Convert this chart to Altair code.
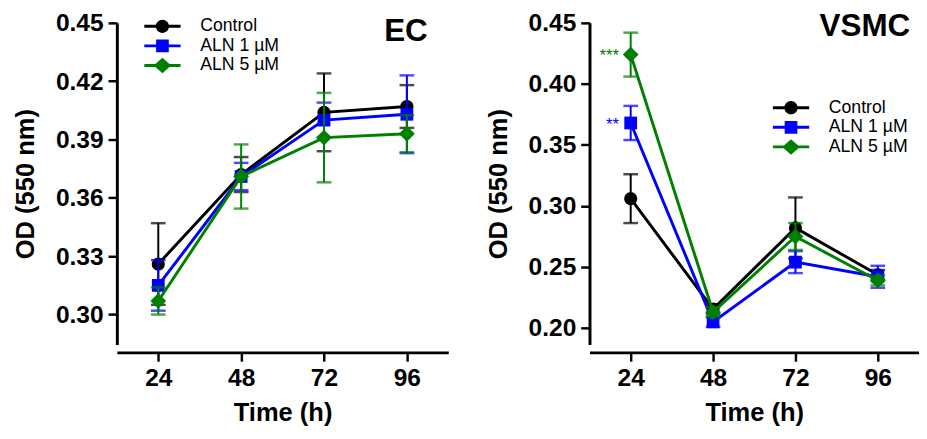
import altair as alt
import pandas as pd

# ---------------- data ----------------
times = [24, 48, 72, 96]
series = ["Control", "ALN 1 µM", "ALN 5 µM"]

ec_control = [0.326, 0.372, 0.404, 0.407]
ec_control_err = [0.021, 0.009, 0.020, 0.011]
ec_aln1 = [0.315, 0.371, 0.400, 0.403]
ec_aln1_err = [0.013, 0.007, 0.009, 0.020]
ec_aln5 = [0.307, 0.371, 0.391, 0.393]
ec_aln5_err = [0.007, 0.0165, 0.023, 0.0095]

vsmc_control = [0.306, 0.2155, 0.282, 0.2436]
vsmc_control_err = [0.020, 0.004, 0.025, 0.004]
vsmc_aln1 = [0.368, 0.205, 0.254, 0.242]
vsmc_aln1_err = [0.014, 0.004, 0.009, 0.009]
vsmc_aln5 = [0.424, 0.213, 0.275, 0.239]
vsmc_aln5_err = [0.018, 0.004, 0.011, 0.004]
vsmc_stars_24h = ["", "**", "***"]

ec_yticks = [0.30, 0.33, 0.36, 0.39, 0.42, 0.45]
vsmc_yticks = [0.20, 0.25, 0.30, 0.35, 0.40, 0.45]
xticks = [24, 48, 72, 96]

# ---------------- style ----------------
FONT = "Liberation Sans"
colors = ["#000000", "#0000FF", "#008000"]
shapes = ["circle", "square", "diamond"]
sizes = [180, 169, 260]
legend_paths = [
    "M-2,-0.16H-0.6V0.16H-2Z M0.6,-0.16H2V0.16H0.6Z M0,-0.73A0.73,0.73 0 1,1 0,0.73A0.73,0.73 0 1,1 0,-0.73Z",
    "M-2,-0.16H2V0.16H-2Z M-0.7,-0.7H0.7V0.7H-0.7Z",
    "M-2,-0.16H2V0.16H-2Z M0,-0.86L0.97,0L0,0.86L-0.97,0Z",
]


def build_df(vals, errs, stars=None):
    rows = []
    for i, s in enumerate(series):
        for j, t in enumerate(times):
            rows.append({
                "series": s, "time": t, "od": vals[i][j], "err": errs[i][j],
                "star": (stars[i] if (stars is not None and t == 24) else ""),
            })
    return pd.DataFrame(rows)


def panel(df, name, ydomain, yticks, width, lx, ly, title_dx, title_offset):
    base = alt.Chart(df).transform_calculate(
        lo="datum.od - datum.err", hi="datum.od + datum.err"
    )
    x = alt.X(
        "time:Q",
        scale=alt.Scale(domain=[12, 108], nice=False, zero=False),
        axis=alt.Axis(values=xticks, title="Time (h)", offset=8, labelPadding=5,
                      titlePadding=10, format="d"),
    )
    y_axis = alt.Axis(values=yticks, format=".2f", title="OD (550 nm)",
                      labelPadding=5, titlePadding=17)
    yscale = alt.Scale(domain=ydomain, nice=False, zero=False)

    layers = []
    for i, s in enumerate(series):
        sub = base.transform_filter(alt.datum.series == s)
        c = colors[i]
        layers.append(sub.mark_rule(color=c, strokeWidth=2).encode(
            x=x, y=alt.Y("lo:Q", scale=yscale, axis=y_axis), y2="hi:Q"))
        layers.append(sub.mark_tick(color=c, orient="horizontal", size=15, thickness=2.5).encode(
            x=x, y=alt.Y("hi:Q", scale=yscale, axis=y_axis)))
        layers.append(sub.mark_tick(color=c, orient="horizontal", size=15, thickness=2.5).encode(
            x=x, y=alt.Y("lo:Q", scale=yscale, axis=y_axis)))
        layers.append(sub.mark_line(color=c, strokeWidth=3).encode(
            x=x, y=alt.Y("od:Q", scale=yscale, axis=y_axis)))
        layers.append(sub.mark_point(filled=True, shape=shapes[i], size=sizes[i],
                                     color=c, opacity=1).encode(
            x=x, y=alt.Y("od:Q", scale=yscale, axis=y_axis)))
        layers.append(sub.transform_filter("datum.star != ''").mark_text(
            color=c, align="right", baseline="middle", dx=-12, dy=2, fontSize=17,
            font=FONT).encode(
            x=x, y=alt.Y("od:Q", scale=yscale, axis=y_axis), text="star:N"))

    leg = alt.Legend(
        title=None, orient="none", legendX=lx, legendY=ly, symbolSize=342,
        labelFont=FONT, labelFontSize=18, labelColor="black", labelOffset=29,
        rowPadding=1, padding=0, symbolStrokeWidth=0, symbolOpacity=1,
    )
    legend_layer = base.transform_filter("false").mark_point(filled=True, opacity=1).encode(
        x=x,
        y=alt.Y("od:Q", scale=yscale, axis=y_axis),
        color=alt.Color("series:N", scale=alt.Scale(domain=series, range=colors), legend=leg),
        shape=alt.Shape("series:N", scale=alt.Scale(domain=series, range=legend_paths), legend=leg),
    )
    layers.append(legend_layer)

    return alt.layer(*layers).properties(
        width=width, height=328,
        title=alt.TitleParams(name, anchor="end", fontSize=32, font=FONT,
                              fontWeight="bold", color="black", offset=title_offset,
                              dx=title_dx),
    )


ec_df = build_df([ec_control, ec_aln1, ec_aln5], [ec_control_err, ec_aln1_err, ec_aln5_err])
vsmc_df = build_df([vsmc_control, vsmc_aln1, vsmc_aln5],
                   [vsmc_control_err, vsmc_aln1_err, vsmc_aln5_err], vsmc_stars_24h)

left = panel(ec_df, "EC", [0.2846, 0.45], ec_yticks, 338, 37, -6, -21, -37)
right = panel(vsmc_df, "VSMC", [0.1865, 0.45], vsmc_yticks, 336, 196, 77, -9, -32)

chart = alt.hconcat(left, right, spacing=38).resolve_scale(
    color="independent", shape="independent"
).resolve_legend(color="independent", shape="independent").properties(
    padding={"left": 5, "top": -2, "right": 0, "bottom": 0}
).configure_view(stroke=None).configure_axis(
    grid=False, domainColor="black", domainWidth=3, tickColor="black", tickWidth=2.5,
    tickSize=9, labelFont=FONT, labelFontWeight="bold", labelFontSize=25,
    labelColor="black", titleFont=FONT, titleFontWeight="bold", titleFontSize=26,
    titleColor="black",
)

chart.save("out.html", embed_options={"renderer": "svg", "actions": False})
